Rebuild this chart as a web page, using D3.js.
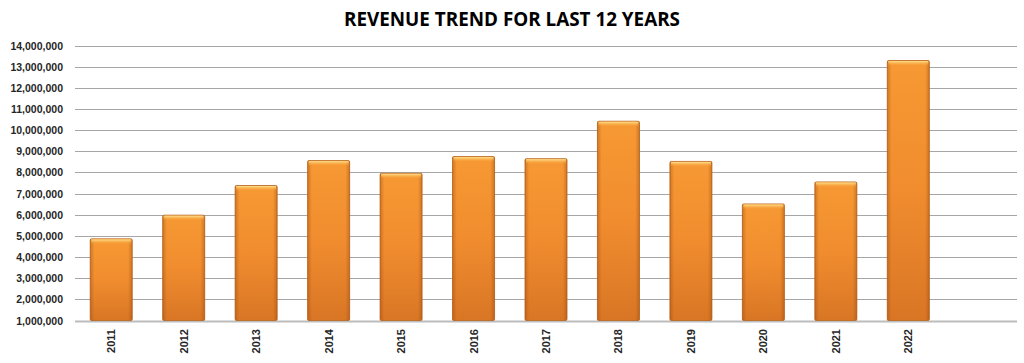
<!doctype html>
<html>
  <head>
    <script src="https://cdn.jsdelivr.net/npm/d3@7"></script>
    <style>
      body { margin: 0; background: #fff; }
    </style>
  </head>
  <body>
    <svg id="chart" width="1024" height="363"></svg>

    <script>
      var years = ["2011", "2012", "2013", "2014", "2015", "2016", "2017", "2018", "2019", "2020", "2021", "2022"];
      var revenue = [4860000, 5980000, 7380000, 8560000, 7960000, 8750000, 8650000, 10420000, 8520000, 6510000, 7550000, 13290000];
      var yTicks = [1000000, 2000000, 3000000, 4000000, 5000000, 6000000, 7000000, 8000000, 9000000, 10000000, 11000000, 12000000, 13000000, 14000000];

      var svg = d3.select("#chart");
      var plotLeft = 75, plotRight = 1017, plotTop = 45.5, plotBottom = 320.5;

      // the Excel chart keeps one empty slot after the last year
      var x = d3.scaleBand()
        .domain(years.concat([""]))
        .range([plotLeft, plotRight])
        .paddingInner(0.42)
        .paddingOuter(0.21);

      var y = d3.scaleLinear()
        .domain([1000000, 14000000])
        .range([plotBottom, plotTop]);

      var defs = svg.append("defs");

      var vg = defs.append("linearGradient").attr("id", "vgrad")
        .attr("x1", 0).attr("y1", 0).attr("x2", 0).attr("y2", 1);
      vg.append("stop").attr("offset", "0%").attr("stop-color", "#fb9d35");
      vg.append("stop").attr("offset", "50%").attr("stop-color", "#f59030");
      vg.append("stop").attr("offset", "100%").attr("stop-color", "#dc7826");

      var hg = defs.append("linearGradient").attr("id", "hgrad")
        .attr("x1", 0).attr("y1", 0).attr("x2", 1).attr("y2", 0);
      hg.append("stop").attr("offset", "0%").attr("stop-color", "#9a4a10").attr("stop-opacity", 0.45);
      hg.append("stop").attr("offset", "10%").attr("stop-color", "#9a4a10").attr("stop-opacity", 0.05);
      hg.append("stop").attr("offset", "90%").attr("stop-color", "#9a4a10").attr("stop-opacity", 0.05);
      hg.append("stop").attr("offset", "100%").attr("stop-color", "#9a4a10").attr("stop-opacity", 0.45);

      var tg = defs.append("linearGradient").attr("id", "tgrad")
        .attr("x1", 0).attr("y1", 0).attr("x2", 0).attr("y2", 1);
      tg.append("stop").attr("offset", "0%").attr("stop-color", "#fde38e");
      tg.append("stop").attr("offset", "100%").attr("stop-color", "#fb9d35").attr("stop-opacity", 0);

      // title
      svg.append("text")
        .attr("x", 512)
        .attr("y", 26)
        .attr("text-anchor", "middle")
        .attr("font-family", "Open Sans, Liberation Sans, sans-serif")
        .attr("font-weight", "bold")
        .attr("font-size", 19)
        .attr("textLength", 336)
        .attr("lengthAdjust", "spacingAndGlyphs")
        .attr("fill", "#000")
        .text("REVENUE TREND FOR LAST 12 YEARS");

      // gridlines
      svg.append("g")
        .selectAll("line")
        .data(yTicks)
        .enter()
        .append("line")
        .attr("x1", plotLeft)
        .attr("x2", plotRight)
        .attr("y1", d => Math.round(y(d)) + 0.5)
        .attr("y2", d => Math.round(y(d)) + 0.5)
        .attr("stroke", d => d === 1000000 ? "#bcbcbc" : "#a6a6a6")
        .attr("stroke-width", d => d === 1000000 ? 2 : 1);

      // y labels
      svg.append("g")
        .selectAll("text")
        .data(yTicks)
        .enter()
        .append("text")
        .attr("x", 63)
        .attr("y", d => y(d) + 4)
        .attr("text-anchor", "end")
        .attr("font-family", "Liberation Sans, Arial, sans-serif")
        .attr("font-weight", "bold")
        .attr("font-size", 10.5)
        .attr("fill", "#262626")
        .text(d => d3.format(",")(d));

      // bars
      var bars = svg.append("g")
        .selectAll("g")
        .data(revenue)
        .enter()
        .append("g")
        .attr("transform", (d, i) => "translate(" + x(years[i]) + ",0)");

      bars.append("rect")
        .attr("y", d => y(d))
        .attr("width", x.bandwidth())
        .attr("height", d => y(1000000) - y(d))
        .attr("rx", 1.5)
        .attr("fill", "url(#vgrad)")
        .attr("stroke", "#b8621c")
        .attr("stroke-width", 0.8);

      bars.append("rect")
        .attr("y", d => y(d))
        .attr("width", x.bandwidth())
        .attr("height", d => y(1000000) - y(d))
        .attr("fill", "url(#hgrad)");

      bars.append("rect")
        .attr("x", 1)
        .attr("y", d => y(d) + 0.5)
        .attr("width", x.bandwidth() - 2)
        .attr("height", 5)
        .attr("fill", "url(#tgrad)");

      // x labels
      svg.append("g")
        .selectAll("text")
        .data(years)
        .enter()
        .append("text")
        .attr("transform", d => "translate(" + (x(d) + x.bandwidth() / 2 + 4) + ",329) rotate(-90)")
        .attr("text-anchor", "end")
        .attr("font-family", "Liberation Sans, Arial, sans-serif")
        .attr("font-weight", "bold")
        .attr("font-size", 11)
        .attr("fill", "#262626")
        .text(d => d);
    </script>
  </body>
</html>
